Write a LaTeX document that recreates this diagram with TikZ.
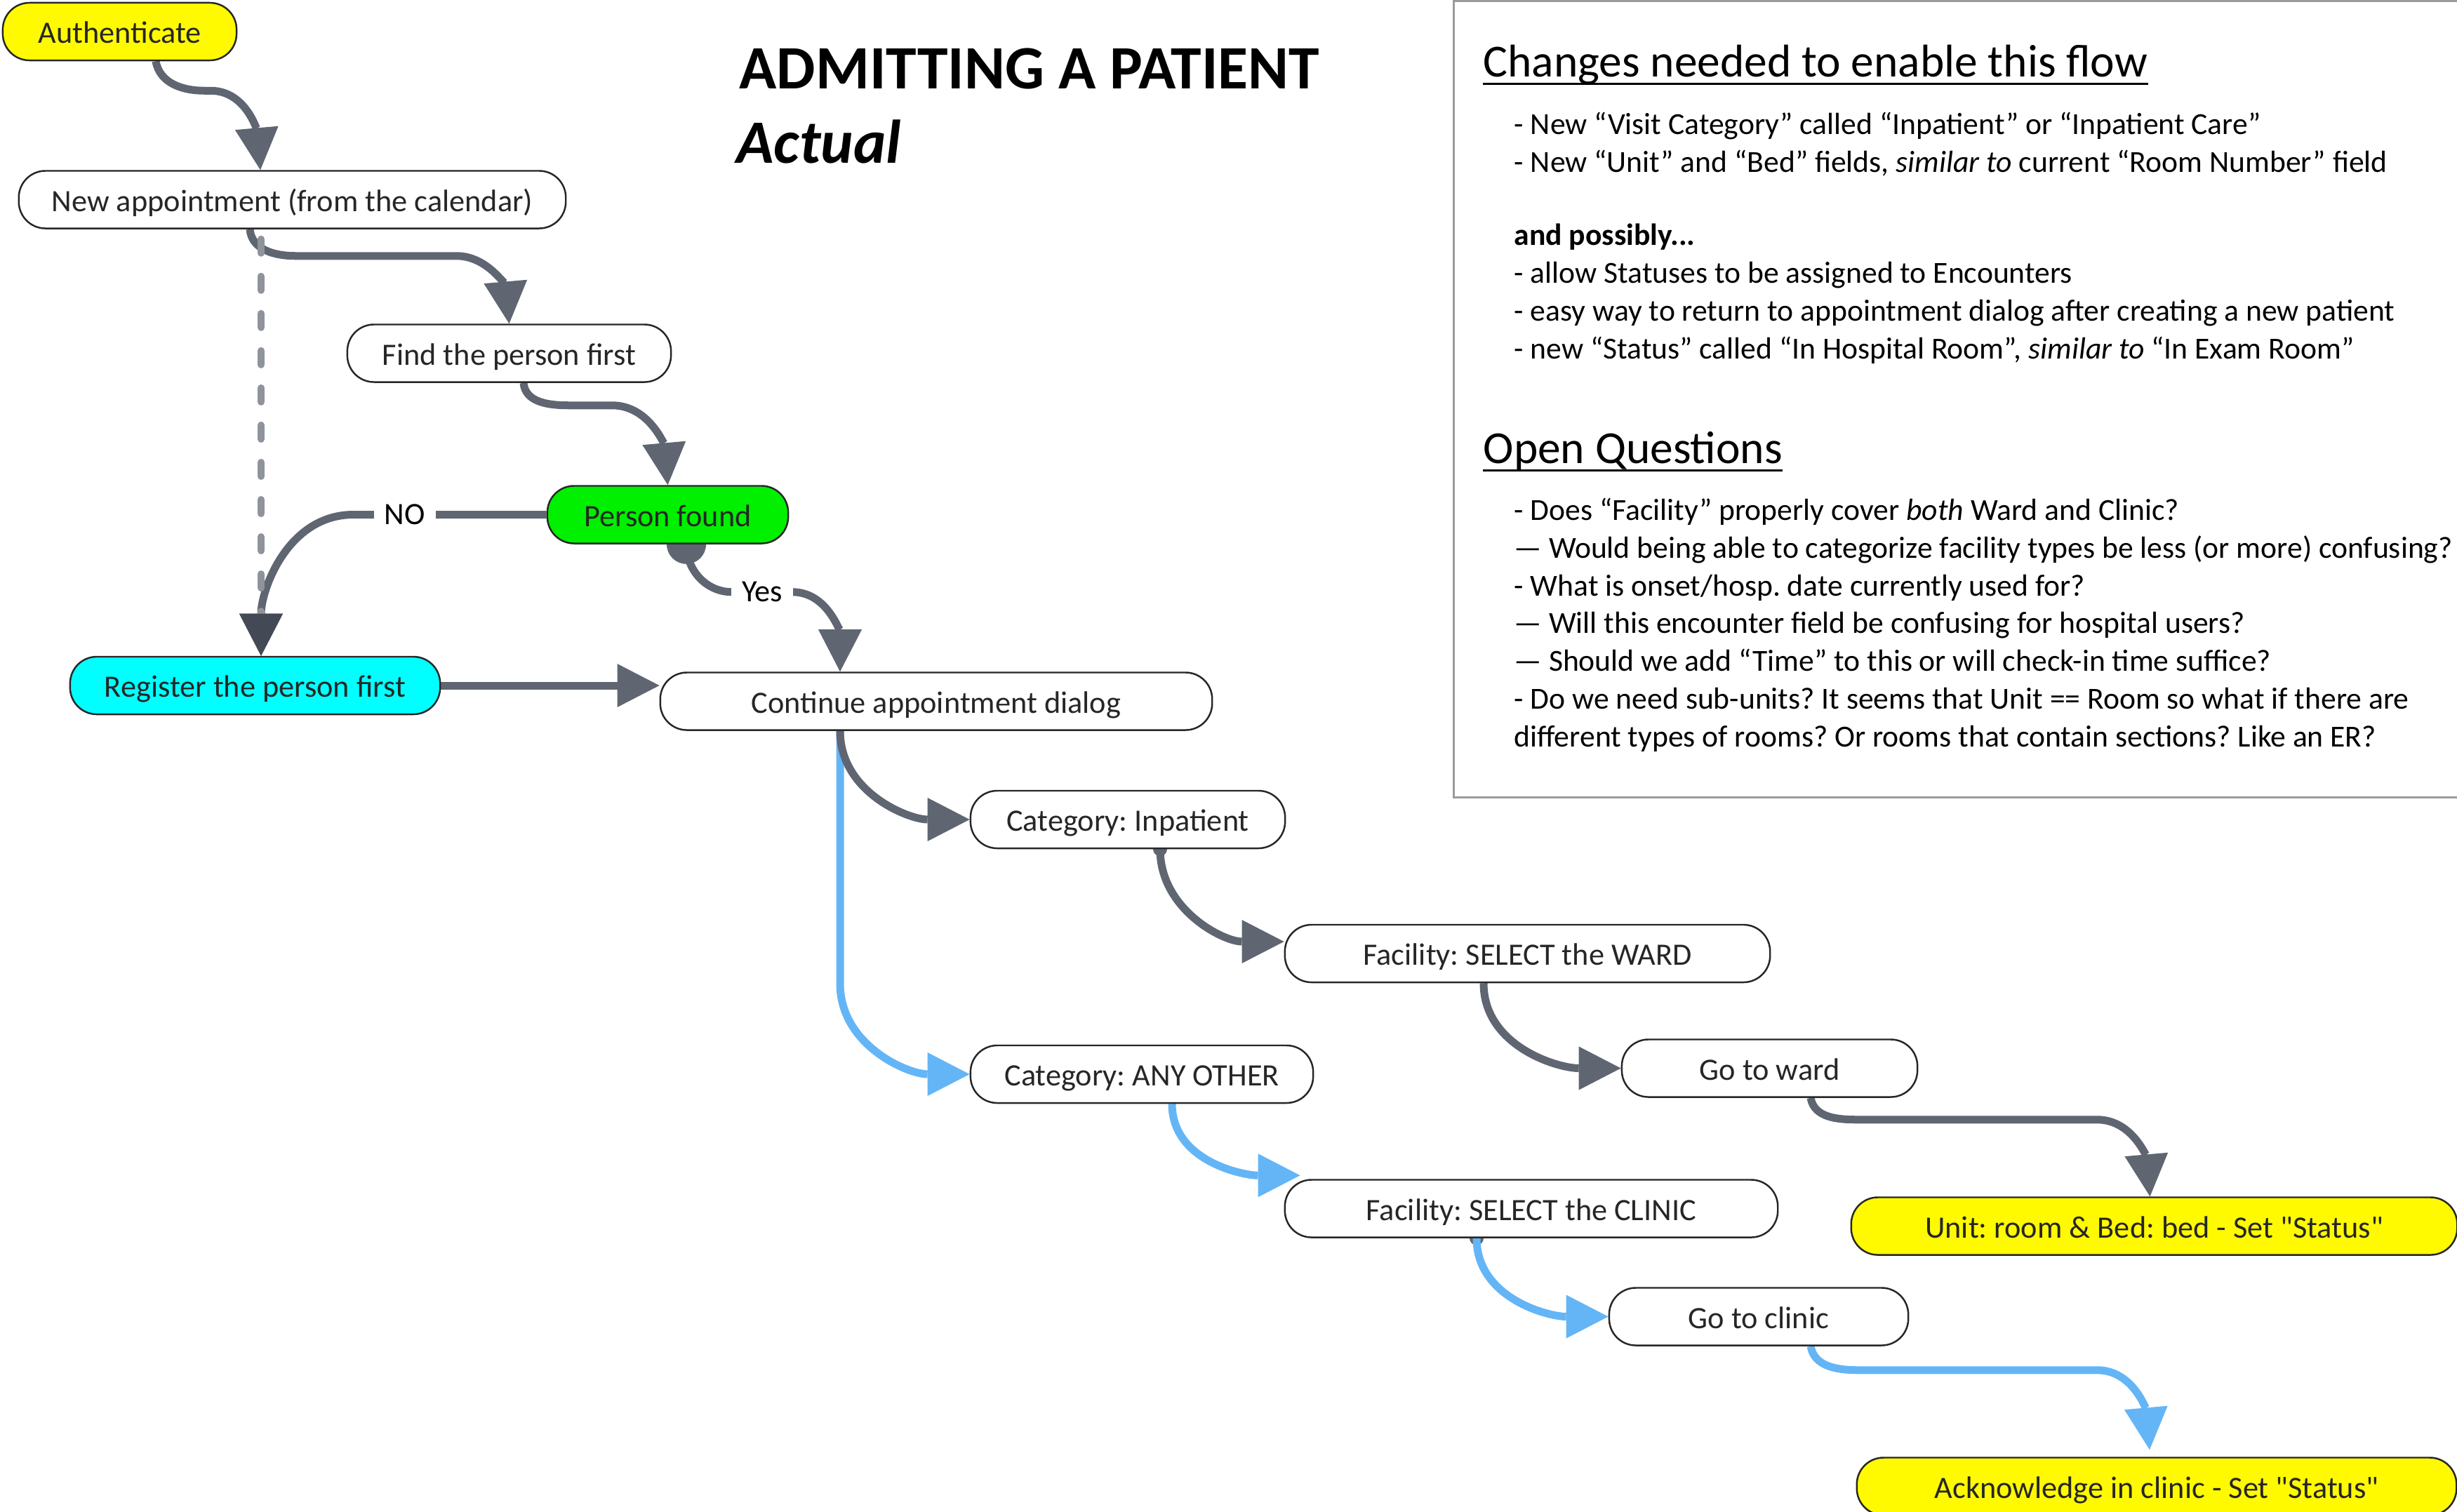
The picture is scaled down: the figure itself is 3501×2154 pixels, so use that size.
\documentclass[tikz,border=0pt]{standalone}
\usepackage{fontspec}
\setmainfont{Carlito}
\usetikzlibrary{arrows.meta,calc,backgrounds}

\definecolor{flowgray}{HTML}{5F6672}
\definecolor{flowblue}{HTML}{64B5F6}
\definecolor{dashgray}{HTML}{8E939C}
\definecolor{tipgray}{HTML}{434955}
\definecolor{panelgray}{HTML}{9B9B9B}
\definecolor{boxyellow}{HTML}{FFFA00}
\definecolor{boxgreen}{HTML}{00F000}
\definecolor{boxcyan}{HTML}{00FFFF}

\tikzset{
  stepbox/.style={draw=black!85, line width=0.7pt, rounded corners=0.38cm, minimum height=0.82cm,
    inner sep=0pt, text height=0.33cm, text depth=0cm, fill=white, text=black!85,
    font=\fontsize{12.6}{15}\selectfont},
  flow/.style={draw=flowgray, line width=0.11cm,
    -{Triangle[length=0.6cm,width=0.62cm,line width=0pt]}},
  blueflow/.style={flow, draw=flowblue},
  dashflow/.style={draw=dashgray, line width=0.1cm, line cap=round, dash pattern=on 0.2cm off 0.33cm,
    -{Triangle[length=0.6cm,width=0.62cm,line width=0pt,color=tipgray]}},
  lbl/.style={fill=white, inner xsep=0.15cm, inner ysep=0.04cm, text=black, font=\fontsize{12.6}{15}\selectfont},
  heading/.style={anchor=base west, inner sep=0pt, font=\fontsize{18.6}{22}\selectfont},
  paneltext/.style={anchor=base west, inner sep=0pt, align=left, font=\fontsize{12.4}{15.28}\selectfont},
}

\begin{document}
\frenchspacing
\begin{tikzpicture}[x=0.01cm,y=-0.01cm]
\useasboundingbox (0,0) rectangle (3501,2154);

% flow boxes
\node[stepbox, fill=boxyellow, minimum width=3.33cm] (auth) at (170.5,45) {Authenticate};
\node[stepbox, minimum width=7.79cm] (newapp) at (416.5,284.5) {New appointment (from the calendar)};
\node[stepbox, minimum width=4.61cm] (find) at (725.5,503.5) {Find the person first};
\node[stepbox, fill=boxgreen, minimum width=3.43cm] (found) at (951.5,733.5) {Person found};
\node[stepbox, fill=boxcyan, minimum width=5.27cm] (register) at (363.5,977) {Register the person first};
\node[stepbox, minimum width=7.86cm] (cont) at (1334,999.5) {Continue appointment dialog};
\node[stepbox, minimum width=4.48cm] (catin) at (1607,1168) {Category: Inpatient};
\node[stepbox, minimum width=6.91cm] (facward) at (2176.5,1359) {Facility: SELECT the WARD};
\node[stepbox, minimum width=4.21cm] (gotoward) at (2521.5,1522.5) {Go to ward};
\node[stepbox, minimum width=4.88cm] (catany) at (1627,1531) {Category: ANY OTHER};
\node[stepbox, minimum width=7.02cm] (facclinic) at (2182,1722.5) {Facility: SELECT the CLINIC};
\node[stepbox, minimum width=4.26cm] (gotoclinic) at (2506,1876.5) {Go to clinic};
\node[stepbox, fill=boxyellow, minimum width=8.63cm] (unit) at (3069.5,1747.5)
  {Unit: room \& Bed: bed - Set \textquotedbl Status\textquotedbl};
\node[stepbox, fill=boxyellow, minimum width=8.54cm] (ack) at (3073,2118.5)
  {Acknowledge in clinic - Set \textquotedbl Status\textquotedbl};

% title
\node[anchor=base west, inner sep=0pt, font=\bfseries\fontsize{25}{30}\selectfont] (title) at (1053,126) {ADMITTING A PATIENT};
\node[anchor=base west, inner sep=0pt, font=\bfseries\itshape\fontsize{25}{30}\selectfont] (subtitle) at (1049,232) {Actual};

% notes panel (multi-line nodes sit on their last line)
\draw[panelgray, line width=0.03cm] (2071,1) rectangle (3540,1136);
\node[heading] (changes) at (2113,109) {Changes needed to enable this flow};
\draw[line width=0.03cm] ($(changes.base west)+(0,10)$) -- ($(changes.base east)+(0,10)$);
\node[paneltext] (needed) at (2157,245) {- New “Visit Category” called “Inpatient” or “Inpatient Care”\\
  - New “Unit” and “Bed” fields, \textit{similar to} current “Room Number” field};
\node[paneltext] (possibly) at (2157,511) {\textbf{and possibly...}\\
  - allow Statuses to be assigned to Encounters\\
  - easy way to return to appointment dialog after creating a new patient\\
  - new “Status” called “In Hospital Room”, \textit{similar to} “In Exam Room”};
\node[heading] (questions) at (2113,660) {Open Questions};
\draw[line width=0.03cm] ($(questions.base west)+(0,10)$) -- ($(questions.base east)+(0,10)$);
\node[paneltext] (open) at (2157,1064) {- Does “Facility” properly cover \textit{both} Ward and Clinic?\\
  — Would being able to categorize facility types be less (or more) confusing?\\
  - What is onset/hosp. date currently used for?\\
  — Will this encounter field be confusing for hospital users?\\
  — Should we add “Time” to this or will check-in time suffice?\\
  - Do we need sub-units? It seems that Unit == Room so what if there are\\
  different types of rooms? Or rooms that contain sections? Like an ER?};

\begin{scope}[on background layer]
  \draw[flow] ($(auth.south)+(51.5,0)$) to[out=-80,in=180] ++(69,42) -- ++(9,0)
    to[out=0,in=95] ($(newapp.north)+(-45.5,0)$);
  \draw[flow] ($(newapp.south)+(-60.5,0)$) to[out=-85,in=180] ++(65,38) -- ++(229,0)
    to[out=0,in=95] (find.north);
  \draw[flow] ($(find.south)+(20.5,0)$) to[out=-85,in=180] ++(65,32) -- ++(61,0)
    to[out=0,in=95] (found.north);
  \draw[flow] (found.west) -- node[lbl, pos=0.735] {NO} ++(-275,0)
    to[out=180,in=90] ($(register.north)+(8.5,0)$);
  \draw[dashflow] ($(newapp.south)+(-44.5,14)$) -- ($(register.north)+(8.5,0)$);
  \fill[flowgray] ($(found.south)+(26.5,0)$) circle (0.28cm);
  \draw[flow] ($(found.south)+(26.5,0)$) to[out=-90,in=180] ++(65,68) -- node[lbl] {Yes} ++(86,0)
    to[out=0,in=90] ($(cont.north)+(-137,0)$);
  \draw[flow] (register.east) -- (register.east -| cont.west);
  % two ways out of the dialog
  \draw[blueflow] ($(cont.south)+(-137,0)$) -- ++(0,360) to[out=-90,in=180] (catany.west);
  \draw[flow] ($(cont.south)+(-137,0)$) to[out=-90,in=180] (catin.west);
  \fill[flowgray] ($(catin.south)+(46,0)$) circle (0.1cm);
  \draw[flow] ($(catin.south)+(46,0)$) to[out=-90,in=180] ($(facward.west)+(0,-17)$);
  \draw[flow] ($(facward.south)+(-62.5,0)$) to[out=-90,in=180] (gotoward.west);
  \draw[flow] ($(gotoward.south)+(58.5,0)$) to[out=-80,in=180] ++(68,31) -- ++(340,0)
    to[out=0,in=95] ($(unit.north)+(-6,0)$);
  \draw[blueflow] ($(catany.south)+(43,0)$) to[out=-90,in=180] ($(facclinic.north west)+(23,-5)$);
  \fill[flowgray] ($(facclinic.south)+(-78,0)$) circle (0.1cm);
  \draw[blueflow] ($(facclinic.south)+(-78,0)$) to[out=-90,in=180] (gotoclinic.west);
  \draw[blueflow] ($(gotoclinic.south)+(74,0)$) to[out=-80,in=180] ++(68,34) -- ++(340,0)
    to[out=0,in=95] ($(ack.north)+(-10,-10)$);
\end{scope}
\end{tikzpicture}
\end{document}
